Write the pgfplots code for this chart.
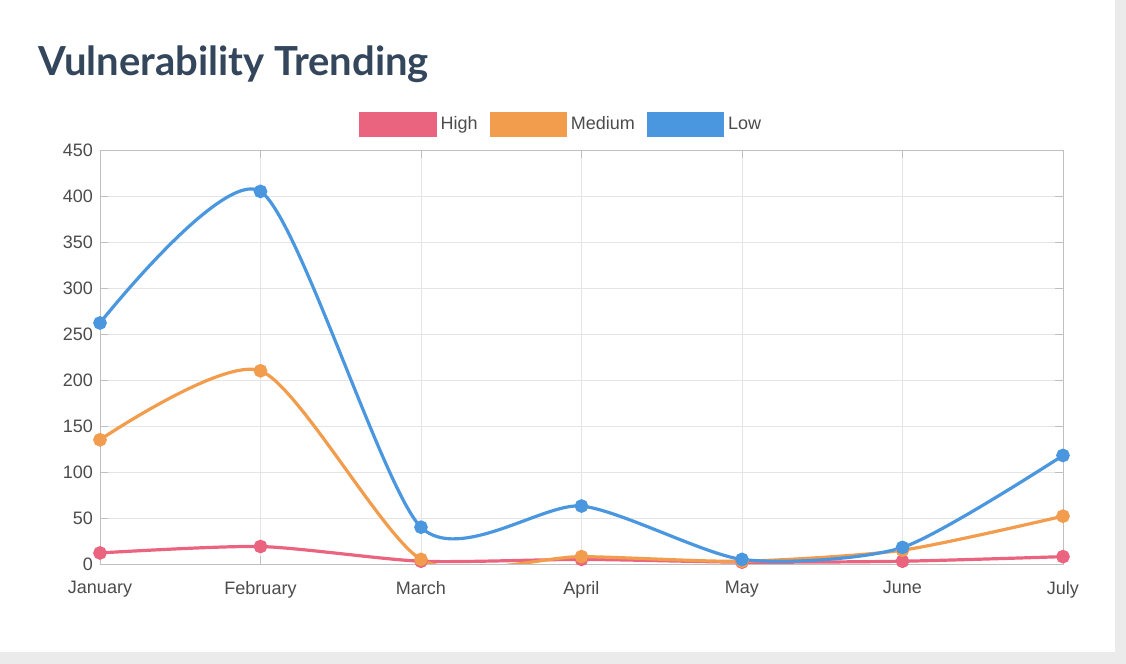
\documentclass[border=0pt]{standalone}
\usepackage{pgfplots}
\pgfplotsset{compat=1.18}
\usepackage{fontspec}
\setmainfont{Liberation Sans}
\newfontfamily\titlefont{Lato}
\definecolor{chigh}{HTML}{EA6480}
\definecolor{cmed}{HTML}{F29C4D}
\definecolor{clow}{HTML}{4A97E0}
\definecolor{ctitle}{HTML}{34465C}
\begin{document}
\begin{tikzpicture}[x=1pt,y=1pt]
\fill[black!8] (0,0) rectangle (563,332);
\fill[white] (0,6) rectangle (557.5,332);
\node[anchor=base west,font=\titlefont\bfseries\fontsize{20}{24}\selectfont,text=ctitle,inner sep=0] at (19,294) {Vulnerability Trending};
\begin{axis}[at={(50pt,50pt)},anchor=origin,scale only axis,width=481.5pt,height=207pt,
 xmin=0,xmax=6,ymin=0,ymax=450,xtick={0,...,6},
 xticklabels={January,February,March,April,May,June,July},
 ytick={0,50,...,450},grid=major,grid style={black!10},
 axis line style={black!25},tick style={black!25},major tick length=4pt,
 tick label style={font=\fontsize{9}{10}\selectfont,text=black!70},
 xticklabel style={yshift=-5pt},
 /pgf/number format/assume math mode=true,
 legend style={at={(0.48,1.02)},anchor=south,draw=none,legend columns=-1,font=\fontsize{9}{10}\selectfont,text=black!70,/tikz/every even column/.style={column sep=4pt}},
 legend image code/.code={\fill[#1] (0,-5.5pt) rectangle (37pt,5.5pt);},
 every axis plot/.append style={line width=1.6pt,smooth,tension=0.42,mark=*,mark size=2.6pt}]
\addplot[chigh,mark options={fill=chigh}] coordinates {(0,12)(1,19)(2,3)(3,5)(4,2)(5,3)(6,8)};
\addlegendentry{High}
\addplot[cmed,mark options={fill=cmed}] coordinates {(0,135)(1,210)(2,5)(3,8)(4,3)(5,15)(6,52)};
\addlegendentry{Medium}
\addplot[clow,mark options={fill=clow}] coordinates {(0,262)(1,405)(2,40)(3,63)(4,5)(5,18)(6,118)};
\addlegendentry{Low}
\end{axis}
\end{tikzpicture}
\end{document}
